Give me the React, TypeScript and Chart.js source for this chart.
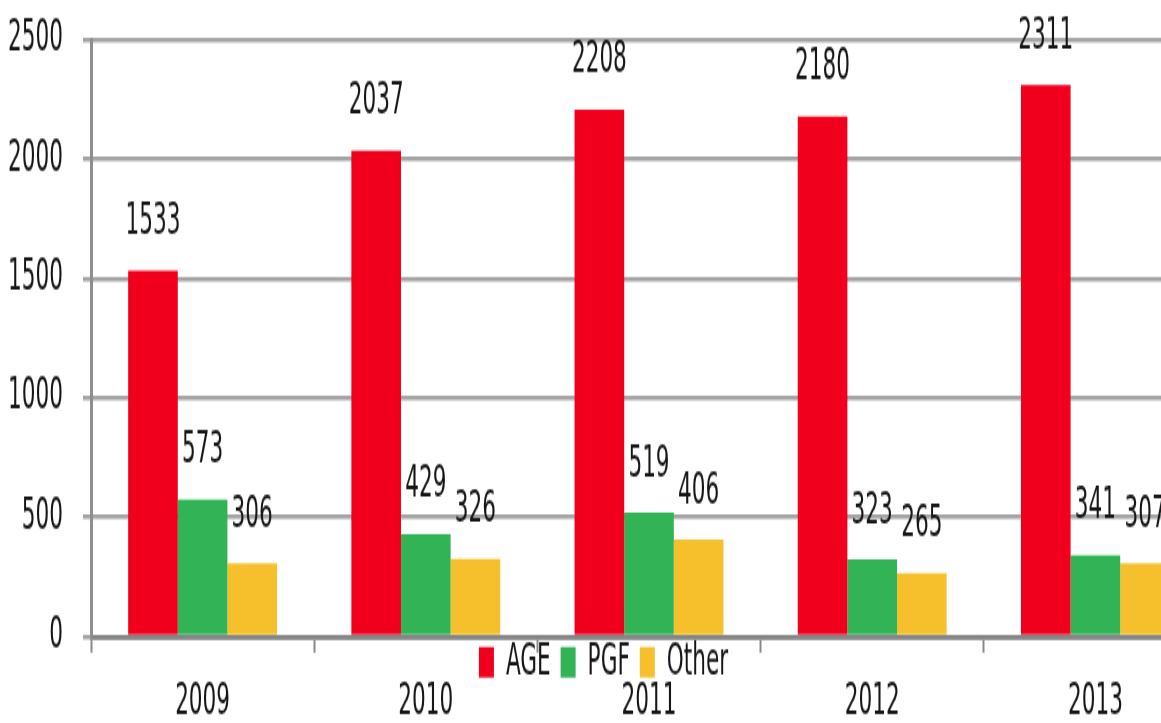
import React, { useEffect, useRef } from "react";
import { Chart, registerables } from "chart.js";

Chart.register(...registerables);

const categories = ["2009", "2010", "2011", "2012", "2013"];
const ageValues = [1533, 2037, 2208, 2180, 2311];
const pgfValues = [573, 429, 519, 323, 341];
const otherValues = [306, 326, 406, 265, 307];
const yTicks = [0, 500, 1000, 1500, 2000, 2500];

const FONT = "'DejaVu Sans Condensed', 'Liberation Sans Narrow', sans-serif";
const TEXT = "#161616";
const CW = 1210;
const CH = 402;
const PAGE_H = 723;
const FS = 24;
const LEGEND_H = 23;
const LEGEND_PAD = 10;
const LEGEND_SHIFT = 8.6;

const valueLabels = {
  id: "valueLabels",
  afterDatasetsDraw(chart: any) {
    const ctx = chart.ctx;
    ctx.save();
    ctx.font = `${FS}px ${FONT}`;
    ctx.fillStyle = TEXT;
    ctx.textAlign = "center";
    ctx.textBaseline = "alphabetic";
    chart.data.datasets.forEach((ds: any, i: number) => {
      const meta = chart.getDatasetMeta(i);
      meta.data.forEach((bar: any, j: number) => {
        ctx.fillText(String(ds.data[j]), bar.x, bar.y - 20.5);
      });
    });
    ctx.restore();
  },
};

const legendFit = {
  id: "legendFit",
  beforeLayout(chart: any) {
    const lg = chart.legend;
    if (lg && !lg.__patched) {
      const orig = lg.fit;
      lg.fit = function () {
        orig.call(this);
        this.height = LEGEND_H;
      };
      lg.__patched = true;
    }
  },
  afterLayout(chart: any) {
    const lg = chart.legend;
    if (lg) {
      lg.top -= LEGEND_SHIFT;
    }
  },
};

export default function App() {
  const ref = useRef<HTMLCanvasElement>(null);
  useEffect(() => {
    if (!ref.current) return;
    const chart = new Chart(ref.current, {
      type: "bar",
      data: {
        labels: categories,
        datasets: [
          { label: "AGE", data: ageValues, backgroundColor: "#f0001c", borderWidth: 0 },
          { label: "PGF", data: pgfValues, backgroundColor: "#31b356", borderWidth: 0 },
          { label: "Other", data: otherValues, backgroundColor: "#f5c02c", borderWidth: 0 },
        ],
      },
      options: {
        animation: false,
        responsive: false,
        devicePixelRatio: 1,
        datasets: { bar: { categoryPercentage: 0.667, barPercentage: 1 } },
        layout: { padding: { top: 22.2, right: 3, left: 0, bottom: 0 } },
        plugins: {
          tooltip: { enabled: false },
          legend: {
            position: "bottom",
            align: "center",
            labels: {
              boxWidth: 15,
              boxHeight: 17,
              padding: LEGEND_PAD,
              color: TEXT,
              font: { family: FONT, size: FS },
            },
          },
        },
        scales: {
          x: {
            position: "bottom",
            weight: 0,
            offset: true,
            grid: {
              offset: true,
              drawOnChartArea: false,
              drawTicks: true,
              tickLength: 9,
              tickWidth: 2,
              tickColor: "#8a8a8a",
              color: "#8a8a8a",
            },
            border: { display: true, color: "#858585", width: 2.8 },
            ticks: { display: false },
            afterFit: (s: any) => {
              s.height = 1;
            },
          },
          x2: {
            type: "category",
            position: "bottom",
            weight: 2000,
            offset: true,
            grid: { display: false, drawTicks: false },
            border: { display: false },
            ticks: {
              color: TEXT,
              font: { family: FONT, size: FS },
              padding: -1.5,
              maxRotation: 0,
            },
            afterFit: (s: any) => {
              s.height = 24.1;
            },
          },
          y: {
            min: 0,
            max: 2500,
            afterBuildTicks: (s: any) => {
              s.ticks = yTicks.map((v) => ({ value: v }));
            },
            grid: {
              color: "#a4a4a4",
              lineWidth: 2.5,
              drawTicks: true,
              tickLength: 8,
            },
            border: { display: true, color: "#8e8e8e", width: 3 },
            ticks: {
              color: TEXT,
              font: { family: FONT, size: FS },
              padding: 20,
              callback: (v: any) => String(v),
            },
            afterFit: (s: any) => {
              s.width = 91;
              s.paddingTop = 0;
              s.paddingBottom = 0;
            },
          },
        },
      },
      plugins: [legendFit, valueLabels],
    });
    return () => chart.destroy();
  }, []);

  return (
    <div
      style={{
        position: "fixed",
        left: 0,
        top: 0,
        width: 1161,
        height: PAGE_H,
        overflow: "hidden",
        background: "#fff",
      }}
    >
      <canvas
        ref={ref}
        width={CW}
        height={CH}
        style={{ display: "block", width: `${CW}px`, height: `${PAGE_H}px` }}
      />
    </div>
  );
}
